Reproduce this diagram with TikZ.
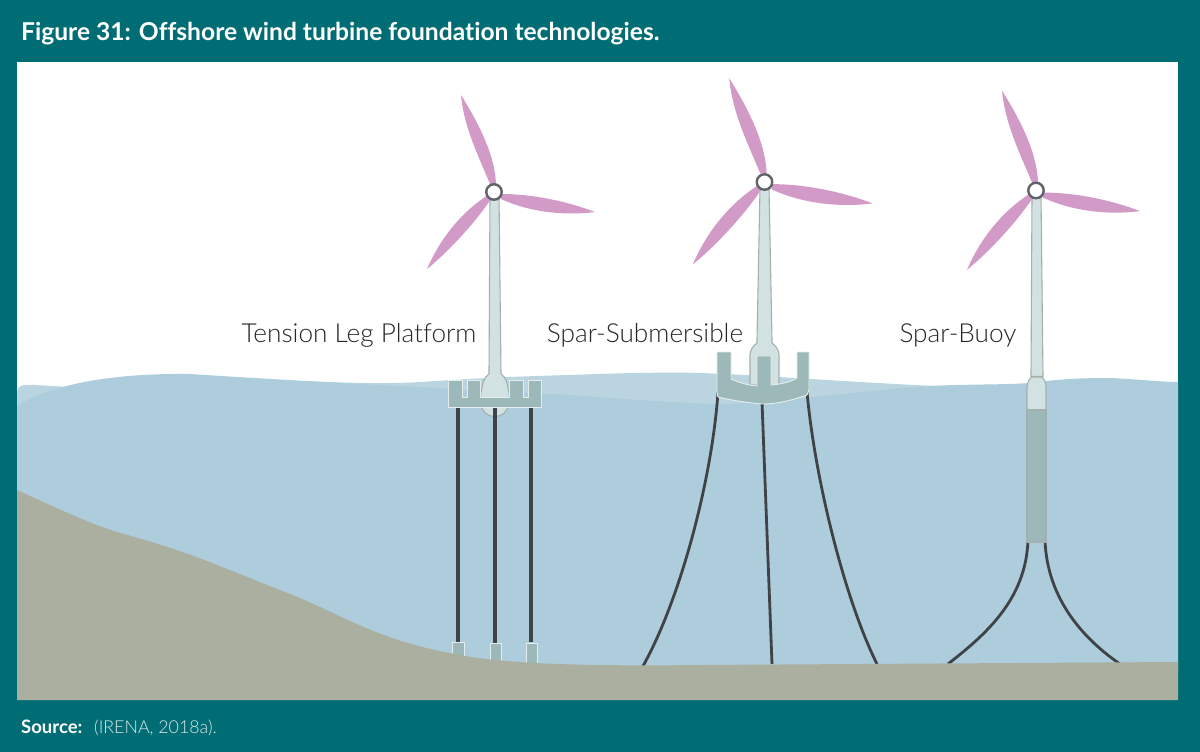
\documentclass[tikz,border=0pt]{standalone}
\usepackage{fontspec}
\setmainfont[Ligatures=NoCommon]{Lato}
\newfontfamily\labelfont[Ligatures=NoCommon]{Lato Light}
\definecolor{teal1}{HTML}{006D75}
\definecolor{seaA}{HTML}{ADCCDC}
\definecolor{seaB}{HTML}{BBD5E0}
\definecolor{land}{HTML}{ABAFA0}
\definecolor{blade}{HTML}{D29AC7}
\definecolor{towerc}{HTML}{D2E2E2}
\definecolor{towerl}{HTML}{A4B0AE}
\definecolor{plat}{HTML}{9DB8B8}
\definecolor{cable}{HTML}{3F4345}
\definecolor{hubl}{HTML}{5E6468}
\tikzset{
 x=1pt,y=-1pt,
 bladest/.style={fill=blade,draw=none},
 towerst/.style={fill=towerc,draw=towerl,line width=1.1pt},
 platst/.style={fill=plat,draw=white!75!plat,line width=0.9pt,line join=round},
 cablest/.style={draw=cable,line width=2.8pt},
 hubst/.style={circle,fill=white,draw=hubl,line width=2.4pt,minimum size=15.5pt,inner sep=0pt},
 labelst/.style={font=\fontsize{26.2}{30}\selectfont\labelfont,text=black!85,anchor=base,inner sep=0pt},
 pics/rotor/.style={code={
  \fill[bladest] (2,-8) .. controls (1,-35) and (-13,-65) .. (-33,-97) .. controls (-30,-64) and (-15,-35) .. (-4,-8) -- cycle;
  \fill[bladest] (7,2) .. controls (40,2) and (75,10) .. (101,20) .. controls (70,24) and (35,20) .. (7,7) -- cycle;
  \fill[bladest] (-6,3) .. controls (-35,22) and (-55,49) .. (-67,77) .. controls (-46,60) and (-19,31) .. (-3,7) -- cycle;
 }}
}
\begin{document}
\begin{tikzpicture}
\useasboundingbox (0,0) rectangle (1200,752);
\fill[teal1] (0,0) rectangle (1200,752);
\fill[white] (17,62) rectangle (1178,700);
\node[anchor=base west,inner sep=0pt,text=white,font=\fontsize{24.6}{28}\selectfont\bfseries] (title) at (21,41) {Figure 31: Offshore wind turbine foundation technologies.};
\node[anchor=base west,inner sep=0pt,text=white,font=\fontsize{18.5}{20}\selectfont\bfseries] (src) at (21,733) {Source:};
\node[anchor=base west,inner sep=0pt,text=white!85!teal1,font=\fontsize{17.8}{20}\selectfont\labelfont] (srct) at (94,733) {(IRENA, 2018a).};
% back sea
\fill[seaB] (17,392) .. controls (17,386) and (22,384) .. (35,385) -- (70,387) -- (300,381) .. controls (350,383) and (390,384) .. (420,382) .. controls (480,378) and (530,376) .. (570,375) .. controls (620,373) and (670,372) .. (700,373) .. controls (760,375) and (830,381) .. (935,386) -- (935,500) -- (17,500) -- cycle;
% front sea
\fill[seaA] (17,406) .. controls (50,385) and (110,373) .. (190,374) .. controls (250,378) and (340,383) .. (420,387) .. controls (480,391) and (530,393) .. (570,395) .. controls (620,399) and (680,403) .. (715,404) .. controls (760,404) and (850,392) .. (930,386) .. controls (970,384) and (1000,385) .. (1030,383) .. controls (1060,379) and (1080,378) .. (1110,378) .. controls (1135,379) and (1160,382) .. (1178,382) -- (1178,670) -- (17,670) -- cycle;
% TLP lower
\draw[towerst] (481,405) .. controls (482,412) and (488,416.5) .. (495,416.5) .. controls (502,416.5) and (507,412) .. (508.5,405) -- cycle;
% cables
\coordinate (c1t) at (458,407); \coordinate (c2t) at (495,407); \coordinate (c3t) at (531,407);
\coordinate (c1b) at (458,642); \coordinate (c2b) at (495,644); \coordinate (c3b) at (531,642);
\draw[cablest,line width=3.2pt] (c1t) -- (c1b); \draw[cablest,line width=3.2pt] (c2t) -- (c2b); \draw[cablest,line width=3.2pt] (c3t) -- (c3b);
\draw[platst] (452.7,642.7) rectangle (464.3,665);
\draw[platst] (490,643.5) rectangle (501.7,668);
\draw[platst] (526,643) rectangle (537.7,668);
% spar-sub cables
\coordinate (s1t) at (718,392); \coordinate (s1b) at (643,666);
\coordinate (s2t) at (762,402); \coordinate (s2b) at (772,664);
\coordinate (s3t) at (807,392); \coordinate (s3b) at (877,664);
\draw[cablest] (s1t) .. controls (712,480) and (680,600) .. (s1b);
\draw[cablest] (s2t) -- (s2b);
\draw[cablest] (s3t) .. controls (815,480) and (845,600) .. (s3b);
% buoy cables
\coordinate (b1t) at (1028,540); \coordinate (b1b) at (948,664);
\coordinate (b2t) at (1045,540); \coordinate (b2b) at (1120,664);
\draw[cablest] (b1t) .. controls (1026,600) and (985,635) .. (b1b);
\draw[cablest] (b2t) .. controls (1047,600) and (1085,640) .. (b2b);
% land
\fill[land] (17,490) .. controls (50,505) and (85,522) .. (120,533) .. controls (150,541) and (185,552) .. (217,565) .. controls (245,576) and (272,587) .. (300,598) .. controls (328,610) and (356,625) .. (384,635) .. controls (405,643) and (428,649) .. (450,653) .. controls (465,656) and (480,659) .. (497,660) .. controls (540,665) and (620,666) .. (700,665) -- (1178,662) -- (1178,700) -- (17,700) -- cycle;
% towers TLP
\fill[towerc] (482,397) -- (482,392) .. controls (482,384) and (484,377) .. (489,374) -- (490,195) -- (499,195) -- (501,374) .. controls (506,377) and (508,384) .. (508,392) -- (508,397) -- cycle;
\draw[towerst,fill=none] (490,195) -- (489,374) .. controls (484,377) and (482,384) .. (481.5,392) (499,195) -- (501,374) .. controls (506,377) and (508,384) .. (508.5,392);
\draw[platst] (448.7,380.7) -- (462.3,380.7) -- (462.3,397.3) -- (467,397.3) -- (467,380.7) -- (480.7,380.7) -- (480.7,397.3) -- (509,397.3) -- (509,380.7) -- (523.3,380.7) -- (523.3,397.3) -- (528,397.3) -- (528,380.7) -- (541.7,380.7) -- (541.7,407.3) -- (448.7,407.3) -- cycle;
% tower spar-sub
\draw[towerst] (760,188) -- (769,188) -- (772,340) -- (772,343) .. controls (776,346) and (779,350) .. (779,355) -- (779,385) -- (750,385) -- (750,355) .. controls (750,350) and (753,346) .. (757,343) -- (757,340) -- cycle;
\draw[platst] (717,352) -- (731,352) -- (731,379) .. controls (738,382) and (746,385) .. (757,386) -- (757,356) -- (771,356) -- (771,385) .. controls (782,384) and (791,382) .. (797,378) -- (797,352) -- (809,352) -- (809,390) -- (807,395) .. controls (795,399) and (780,404) .. (762,404) .. controls (750,403) and (730,400) .. (718,397) -- (717,393) -- cycle;
% tower buoy
\draw[towerst] (1032,195) -- (1041,195) -- (1043,376.5) -- (1031,376.5) -- cycle;
\draw[towerst] (1027,410) -- (1027,388) .. controls (1027,382) and (1030,378) .. (1032,377) -- (1041,377) .. controls (1044,378) and (1046,382) .. (1046,388) -- (1046,410) -- cycle;
\fill[plat,draw=towerl,line width=1.1pt] (1027,410) rectangle (1046,542);
% rotors
\path (494,192) pic {rotor};
\path (764.5,182) pic[scale=1.07] {rotor};
\path (1036,190.5) pic[scale=1.03] {rotor};
\node[hubst] (h1) at (494,192) {};
\node[hubst] (h2) at (764.5,182) {};
\node[hubst] (h3) at (1036,190.5) {};
\node[labelst] (l1) at (359,342) {Tension Leg Platform};
\node[labelst] (l2) at (645,342) {Spar-Submersible};
\node[labelst] (l3) at (958,342) {Spar-Buoy};
\end{tikzpicture}
\end{document}
